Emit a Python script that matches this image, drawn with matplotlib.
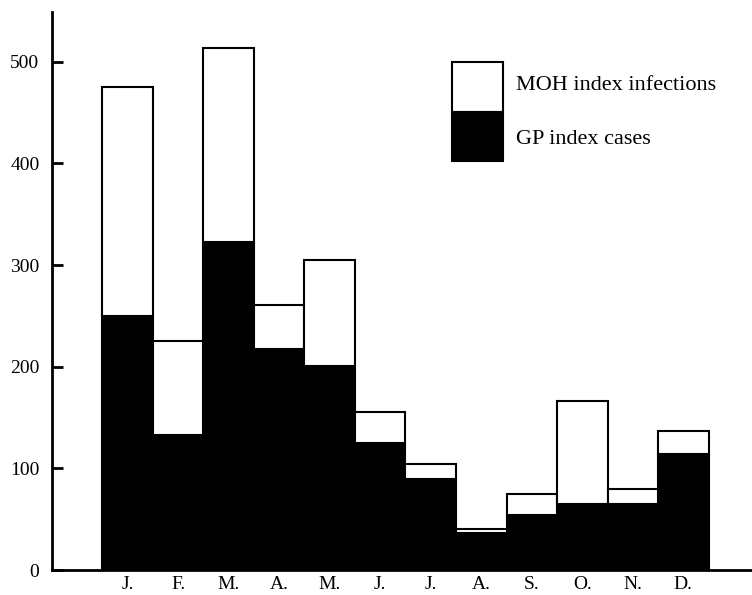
import matplotlib.pyplot as plt
from matplotlib.patches import Rectangle
import numpy as np

plt.rcParams['font.family'] = ['Liberation Serif', 'DejaVu Serif']

months = ['J.', 'F.', 'M.', 'A.', 'M.', 'J.', 'J.', 'A.', 'S.', 'O.', 'N.', 'D.']
# black part of each bar
gp_cases = [250, 133, 323, 217, 201, 125, 90, 36, 54, 65, 65, 114]
# white part stacked on top
moh_infections = [225, 92, 190, 44, 104, 30, 14, 4, 21, 101, 15, 23]
yticks = [0, 100, 200, 300, 400, 500]

fig = plt.figure(figsize=(7.52, 5.95), dpi=100)
ax = fig.add_axes([0.069, 0.042, 0.931, 0.938])

x = np.arange(len(months))
ax.bar(x, gp_cases, width=1.0, color='black', edgecolor='black', linewidth=1.5)
ax.bar(x, moh_infections, width=1.0, bottom=gp_cases, color='white',
       edgecolor='black', linewidth=1.5)

ax.set_xlim(-1.5, 12.36)
ax.set_ylim(0, 549)

ax.spines['top'].set_visible(False)
ax.spines['right'].set_visible(False)
ax.spines['left'].set_linewidth(2)
ax.spines['bottom'].set_linewidth(2)

ax.set_yticks(yticks)
ax.tick_params(axis='y', direction='in', length=8, width=2, pad=9, labelsize=14)
ax.set_xticks(x)
ax.set_xticklabels(months)
ax.tick_params(axis='x', length=0, pad=4, labelsize=14)

# legend drawn as one split box
ax.add_patch(Rectangle((0.571, 0.821), 0.073, 0.089, transform=ax.transAxes,
                       facecolor='white', edgecolor='black', linewidth=1.5,
                       clip_on=False))
ax.add_patch(Rectangle((0.571, 0.732), 0.073, 0.089, transform=ax.transAxes,
                       facecolor='black', edgecolor='black', linewidth=1.5,
                       clip_on=False))
ax.text(0.663, 0.869, 'MOH index infections', transform=ax.transAxes,
        fontsize=16, va='center', ha='left')
ax.text(0.663, 0.771, 'GP index cases', transform=ax.transAxes,
        fontsize=16, va='center', ha='left')

fig.savefig('out.png', dpi=100)
